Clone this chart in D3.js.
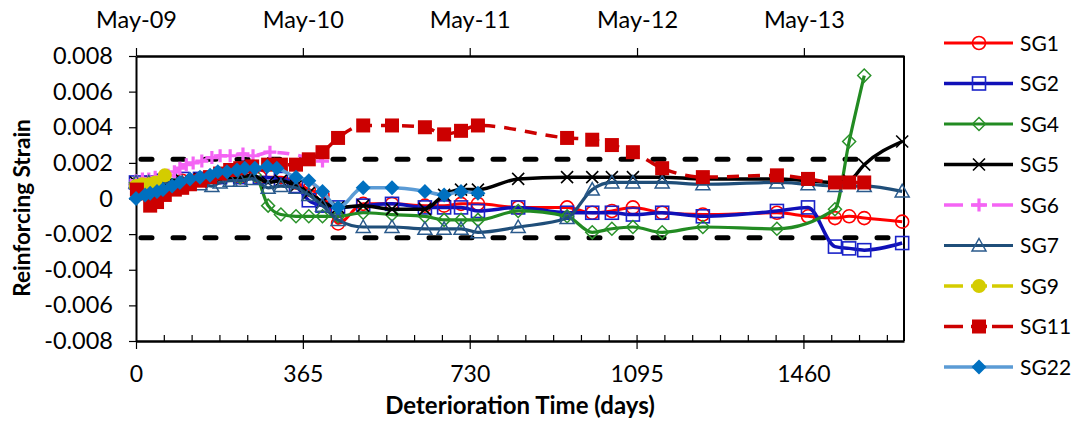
<!DOCTYPE html>
<html><head><meta charset="utf-8">
<script src="https://cdnjs.cloudflare.com/ajax/libs/d3/7.8.5/d3.min.js"></script>
<style>
body{margin:0;background:#fff;}
svg{display:block;font-family:Lato,'Open Sans',sans-serif;}
</style>
</head><body>
<svg id="chart" width="1082" height="421"></svg>
<script>
// ---------------- DATA ----------------
const seriesNames = ["SG1","SG2","SG4","SG5","SG6","SG7","SG9","SG11","SG22"];

const sg1Days = [0,28,56,101,140,184,228,271,317,350,378,408,442,497,560,632,674,711,748,836,943,998,1041,1087,1151,1240,1402,1470,1529,1560,1593,1676];
const sg1Strain = [0.0008,0.0009,0.0009,0.0010,0.0011,0.0012,0.0012,0.0012,0.0012,0.0009,0.0005,0.0002,-0.0014,-0.0003,-0.0003,-0.0004,-0.0004,-0.0003,-0.0003,-0.0005,-0.0005,-0.0008,-0.0007,-0.0005,-0.0008,-0.0009,-0.0008,-0.0010,-0.0011,-0.0010,-0.0011,-0.0013];

const sg2Days = [0,28,56,101,140,184,228,271,317,350,378,408,442,497,560,632,674,711,748,836,943,998,1041,1087,1151,1240,1402,1470,1529,1560,1593,1676];
const sg2Strain = [0.0009,0.0009,0.0010,0.0011,0.0011,0.0012,0.0012,0.0012,0.0011,0.0007,-0.0001,-0.0004,-0.0005,-0.0004,-0.0003,-0.0005,-0.0005,-0.0005,-0.0007,-0.0005,-0.0008,-0.0008,-0.0008,-0.0009,-0.0008,-0.0010,-0.0007,-0.0005,-0.0027,-0.0028,-0.0029,-0.0025];

const sg4Days = [0,56,140,228,260,289,317,350,378,408,442,497,560,632,674,711,748,836,943,998,1041,1087,1151,1240,1402,1529,1560,1593];
const sg4Strain = [0.0009,0.0010,0.0011,0.0012,0.0013,-0.0004,-0.0009,-0.0010,-0.0010,-0.0010,-0.0010,-0.0008,-0.0009,-0.0010,-0.0012,-0.0012,-0.0012,-0.0007,-0.0010,-0.0019,-0.0017,-0.0016,-0.0019,-0.0016,-0.0017,-0.0006,0.0032,0.0069];

const sg5Days = [0,28,56,101,140,184,228,254,289,317,350,378,408,442,497,560,632,674,711,748,836,943,998,1041,1087,1151,1240,1402,1470,1529,1560,1593,1676];
const sg5Strain = [0.0009,0.0009,0.0010,0.0010,0.0011,0.0011,0.0012,0.0013,0.0009,0.0010,0.0007,0.0003,-0.0002,-0.0005,-0.0004,-0.0006,-0.0006,0.0002,0.0005,0.0005,0.0011,0.0012,0.0012,0.0012,0.0012,0.0012,0.0011,0.0011,0.0010,0.0009,0.0010,0.0019,0.0032];

const sg6Days = [0,14,28,42,56,70,84,96,110,125,144,166,184,206,234,256,293,408];
const sg6Strain = [0.0010,0.0011,0.0011,0.0012,0.0012,0.0013,0.0015,0.0017,0.0019,0.0020,0.0021,0.0023,0.0024,0.0024,0.0025,0.0024,0.0026,0.0021];

const sg7Days = [0,28,56,101,140,166,184,206,228,254,289,317,350,378,408,442,497,560,632,674,711,748,836,943,998,1041,1087,1151,1240,1402,1470,1529,1593,1676];
const sg7Strain = [0.0009,0.0009,0.0009,0.0009,0.0008,0.0007,0.0009,0.0010,0.0010,0.0011,0.0006,0.0007,0.0006,0.0002,-0.0004,-0.0012,-0.0016,-0.0016,-0.0017,-0.0017,-0.0017,-0.0019,-0.0016,-0.0011,0.0005,0.0009,0.0009,0.0009,0.0008,0.0009,0.0008,0.0007,0.0007,0.0004];

const sg9Days = [0,14,28,42,63];
const sg9Strain = [0.0007,0.0008,0.0008,0.0009,0.0013];

const sg11Days = [2,31,46,63,85,101,118,140,162,184,206,228,254,289,317,350,378,408,442,497,560,632,674,711,748,943,998,1041,1087,1151,1240,1402,1470,1529,1560,1593];
const sg11Strain = [0.0005,-0.0004,-0.0002,0.0002,0.0005,0.0006,0.0008,0.0010,0.0012,0.0014,0.0016,0.0017,0.0018,0.0019,0.0019,0.0019,0.0022,0.0026,0.0034,0.0041,0.0041,0.0040,0.0036,0.0038,0.0041,0.0034,0.0033,0.0030,0.0026,0.0017,0.0012,0.0013,0.0011,0.0009,0.0009,0.0009];

const sg22Days = [0,20,31,46,59,79,96,118,140,162,179,199,221,238,260,287,308,350,378,408,442,497,560,632,674,711,748];
const sg22Strain = [0.0000,0.0002,0.0003,0.0004,0.0005,0.0007,0.0009,0.0011,0.0012,0.0013,0.0015,0.0015,0.0016,0.0017,0.0017,0.0018,0.0017,0.0012,0.0010,0.0004,-0.0005,0.0006,0.0006,0.0004,0.0002,0.0004,0.0003];

const xTickDays = [0,365,730,1095,1460];
const topTickDays = [0,365,730,1096,1461];
const topTickLabels = ["May-09","May-10","May-11","May-12","May-13"];
const yTickValues = [-0.008,-0.006,-0.004,-0.002,0,0.002,0.004,0.006,0.008];
const limitStrains = [0.0022,-0.0022];

// ---------------- STYLES ----------------
const styles = {
  SG1:{color:"#ff0000",mcolor:"#ff0000",marker:"circleOpen",width:3,dash:null},
  SG2:{color:"#1010b8",mcolor:"#1a22c8",marker:"squareOpen",width:3.5,dash:null},
  SG4:{color:"#228b22",mcolor:"#2a922a",marker:"diamondOpen",width:3.2,dash:null},
  SG5:{color:"#000000",mcolor:"#000000",marker:"x",width:3.5,dash:null},
  SG6:{color:"#f464f4",mcolor:"#f464f4",marker:"plus",width:3.5,dash:"12,9"},
  SG7:{color:"#1f4e79",mcolor:"#2a5a8c",marker:"triangleOpen",width:3.2,dash:null},
  SG9:{color:"#d4cc00",mcolor:"#d4cc00",marker:"circleFilled",width:3.5,dash:"12,9"},
  SG11:{color:"#cc0000",mcolor:"#cc0000",marker:"squareFilled",width:3.5,dash:"12,9"},
  SG22:{color:"#5b9bd5",mcolor:"#0070c0",marker:"diamondFilled",width:3.5,dash:null}
};

const allSeries = [
  {name:"SG1",days:sg1Days,vals:sg1Strain},
  {name:"SG2",days:sg2Days,vals:sg2Strain},
  {name:"SG4",days:sg4Days,vals:sg4Strain},
  {name:"SG5",days:sg5Days,vals:sg5Strain},
  {name:"SG6",days:sg6Days,vals:sg6Strain},
  {name:"SG7",days:sg7Days,vals:sg7Strain},
  {name:"SG9",days:sg9Days,vals:sg9Strain},
  {name:"SG11",days:sg11Days,vals:sg11Strain},
  {name:"SG22",days:sg22Days,vals:sg22Strain}
].map(s=>({name:s.name,pts:s.days.map((d,i)=>({day:d,v:s.vals[i]}))}));

// ---------------- CHART ----------------
const svg = d3.select("#chart");
const L=136,R=904,T=56,B=341;
const x = d3.scaleLinear().domain([0,1680]).range([L,R]);
const y = d3.scaleLinear().domain([-0.008,0.008]).range([B,T]);

const fmtY = d => d===0 ? "0" : d.toFixed(3);

// y axis
const gy = svg.append("g").attr("transform",`translate(${L},0)`)
  .call(d3.axisLeft(y).tickValues(yTickValues).tickFormat(fmtY).tickSize(7).tickSizeOuter(0).tickPadding(16));
gy.select(".domain").attr("stroke","#000").attr("stroke-width",2);
gy.selectAll(".tick line").attr("stroke","#000").attr("stroke-width",1.2);
gy.selectAll("text").attr("font-size",23.5).attr("fill","#000").style("font-family","Lato");

// bottom axis major
const gx = svg.append("g").attr("transform",`translate(0,${B})`)
  .call(d3.axisBottom(x).tickValues(xTickDays).tickFormat(d3.format("d")).tickSize(8).tickSizeOuter(0).tickPadding(17));
gx.select(".domain").attr("stroke","#000").attr("stroke-width",2.5);
gx.selectAll(".tick line").attr("stroke","#000").attr("stroke-width",1.2);
gx.selectAll("text").attr("font-size",23).attr("fill","#000").style("font-family","Lato");

// bottom minor ticks
const minorDays = d3.range(0,1680,365/6).filter(d=>d>0);
const gm = svg.append("g").attr("transform",`translate(0,${B})`)
  .call(d3.axisBottom(x).tickValues(minorDays).tickFormat("").tickSize(-6).tickSizeOuter(0));
gm.select(".domain").remove();
gm.selectAll(".tick line").attr("stroke","#000").attr("stroke-width",1.2);

// top axis
const gt = svg.append("g").attr("transform",`translate(0,${T})`)
  .call(d3.axisTop(x).tickValues(topTickDays).tickFormat((d,i)=>topTickLabels[i]).tickSize(8).tickSizeOuter(0).tickPadding(20));
gt.select(".domain").attr("stroke","#000").attr("stroke-width",2.5);
gt.selectAll(".tick line").attr("stroke","#000").attr("stroke-width",1.2);
gt.selectAll("text").attr("font-size",23.5).attr("fill","#000").style("font-family","Lato");

// right border
svg.append("line").attr("x1",R).attr("x2",R).attr("y1",T).attr("y2",B)
  .attr("stroke","#000").attr("stroke-width",2);

// limit lines
svg.append("g").selectAll("line").data(limitStrains).join("line")
  .attr("x1",x(0)+5).attr("x2",R-2)
  .attr("y1",d=>y(d)).attr("y2",d=>y(d))
  .attr("stroke","#000").attr("stroke-width",5)
  .attr("stroke-linecap","round").attr("stroke-dasharray","11,21");

// titles
svg.append("text").attr("x",(L+R)/2).attr("y",414).attr("text-anchor","middle")
  .attr("font-size",24).attr("font-weight","bold").text("Deterioration Time (days)");
svg.append("text").attr("transform","translate(30,208) rotate(-90)").attr("text-anchor","middle")
  .attr("font-size",22.5).attr("font-weight","bold").text("Reinforcing Strain");

// marker drawing
function drawMarker(g, type, color){
  switch(type){
    case "circleOpen": g.append("circle").attr("r",6.5).attr("fill","none").attr("stroke",color).attr("stroke-width",1.6); break;
    case "squareOpen": g.append("rect").attr("x",-6.5).attr("y",-6.5).attr("width",13).attr("height",13).attr("fill","none").attr("stroke",color).attr("stroke-width",1.6); break;
    case "diamondOpen": g.append("path").attr("d","M0,-6.5L6.5,0L0,6.5L-6.5,0Z").attr("fill","none").attr("stroke",color).attr("stroke-width",1.5); break;
    case "x": g.append("path").attr("d","M-6,-6L6,6M-6,6L6,-6").attr("stroke",color).attr("stroke-width",1.6); break;
    case "plus": g.append("path").attr("d","M-6.5,0L6.5,0M0,-6.5L0,6.5").attr("stroke",color).attr("stroke-width",3.2); break;
    case "triangleOpen": g.append("path").attr("d","M0,-7L7,5.5L-7,5.5Z").attr("fill","none").attr("stroke",color).attr("stroke-width",1.5); break;
    case "circleFilled": g.append("circle").attr("r",7).attr("fill",color); break;
    case "squareFilled": g.append("rect").attr("x",-7).attr("y",-7).attr("width",14).attr("height",14).attr("fill",color); break;
    case "diamondFilled": g.append("path").attr("d","M0,-7.5L7.5,0L0,7.5L-7.5,0Z").attr("fill",color); break;
  }
}

const line = d3.line().x(d=>x(d.day)).y(d=>y(d.v)).curve(d3.curveMonotoneX);
const plot = svg.append("g");
allSeries.forEach(s=>{
  const st = styles[s.name];
  const g = plot.append("g");
  g.append("path").datum(s.pts).attr("d",line).attr("fill","none")
    .attr("stroke",st.color).attr("stroke-width",st.width)
    .attr("stroke-dasharray",st.dash).attr("stroke-linejoin","round");
  s.pts.forEach(p=>{
    const mg = g.append("g").attr("transform",`translate(${x(p.day)},${y(p.v)})`);
    drawMarker(mg, st.marker, st.mcolor);
  });
});

// legend
const leg = svg.append("g");
seriesNames.forEach((n,i)=>{
  const st = styles[n];
  const yy = 43 + i*40.5;
  const g = leg.append("g");
  if(st.dash){
    g.append("line").attr("x1",944).attr("x2",963).attr("y1",yy).attr("y2",yy).attr("stroke",st.color).attr("stroke-width",st.width);
    g.append("line").attr("x1",992).attr("x2",1013).attr("y1",yy).attr("y2",yy).attr("stroke",st.color).attr("stroke-width",st.width);
    g.append("line").attr("x1",971).attr("x2",987).attr("y1",yy).attr("y2",yy).attr("stroke",st.color).attr("stroke-width",st.width);
  } else {
    g.append("line").attr("x1",944).attr("x2",1013).attr("y1",yy).attr("y2",yy).attr("stroke",st.color).attr("stroke-width",st.width);
  }
  const mg = g.append("g").attr("transform",`translate(979,${yy})`);
  drawMarker(mg, st.marker, st.mcolor);
  g.append("text").attr("x",1020).attr("y",yy).attr("dy","0.36em").attr("font-size",21).attr("fill","#000").text(n);
});
</script>
</body></html>
